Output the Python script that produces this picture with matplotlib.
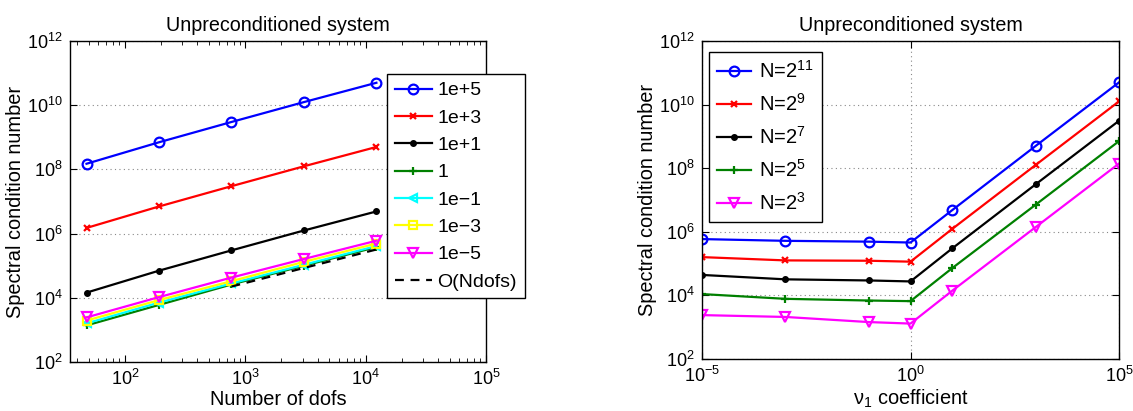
import numpy as np
import matplotlib
matplotlib.use('Agg')
import matplotlib.pyplot as plt
from matplotlib.ticker import LogLocator, NullLocator, LogFormatterSciNotation

plt.rcParams['font.family'] = ['Liberation Sans', 'DejaVu Sans']
plt.rcParams['mathtext.fontset'] = 'custom'
plt.rcParams['mathtext.rm'] = 'Liberation Sans'
plt.rcParams['mathtext.it'] = 'Liberation Sans:italic'

# Left panel: condition number vs number of dofs, one curve per coefficient
ndofs = [48, 192, 768, 3072, 12288]
kappa_1e5 = [1.5e8, 7.0e8, 3.0e9, 1.25e10, 5.0e10]
kappa_1e3 = [1.5e6, 7.0e6, 3.0e7, 1.25e8, 5.0e8]
kappa_1e1 = [1.45e4, 7.0e4, 3.0e5, 1.25e6, 4.9e6]
kappa_1 = [1.38e3, 6.0e3, 2.6e4, 1.0e5, 3.8e5]
kappa_1em1 = [1.6e3, 7.1e3, 2.8e4, 1.07e5, 4.1e5]
kappa_1em3 = [1.95e3, 8.5e3, 3.3e4, 1.32e5, 4.9e5]
kappa_1em5 = [2.45e3, 1.05e4, 4.27e4, 1.62e5, 6.0e5]
ref_ndofs = [768, 3072, 12288]
ref_kappa = [2.24e4, 8.5e4, 3.2e5]
left_labels = ['1e+5', '1e+3', '1e+1', '1', '1e\u22121', '1e\u22123', '1e\u22125', 'O(Ndofs)']

# Right panel: condition number vs nu_1, one curve per mesh size
nu1 = [1e-5, 1e-3, 1e-1, 1e0, 1e1, 1e3, 1e5]
kappa_n11 = [5.9e5, 5.2e5, 4.9e5, 4.6e5, 4.8e6, 5.0e8, 5.0e10]
kappa_n9 = [1.6e5, 1.26e5, 1.23e5, 1.15e5, 1.23e6, 1.26e8, 1.26e10]
kappa_n7 = [4.4e4, 3.2e4, 2.95e4, 2.75e4, 3.0e5, 3.1e7, 3.1e9]
kappa_n5 = [1.1e4, 7.8e3, 6.9e3, 6.6e3, 7.2e4, 7.1e6, 7.1e8]
kappa_n3 = [2.4e3, 2.1e3, 1.45e3, 1.3e3, 1.4e4, 1.4e6, 1.4e8]
right_labels = [r'N=$\mathregular{2^{11}}$', r'N=$\mathregular{2^{9}}$', r'N=$\mathregular{2^{7}}$',
                r'N=$\mathregular{2^{5}}$', r'N=$\mathregular{2^{3}}$']

lw = 1.6
ms = 6

fig = plt.figure(figsize=(11.33, 4.11), dpi=100)
ax1 = fig.add_axes([70 / 1133, 49 / 411, 416 / 1133, 321 / 411])
ax2 = fig.add_axes([702 / 1133, 52 / 411, 417 / 1133, 318 / 411])


def style_axis(ax):
    ax.set_yscale('log')
    ax.set_ylim(1e2, 1e12)
    ax.set_yticks([1e2, 1e4, 1e6, 1e8, 1e10, 1e12])
    ax.yaxis.set_minor_locator(NullLocator())
    ax.yaxis.set_major_formatter(LogFormatterSciNotation())
    ax.tick_params(which='both', direction='in', top=True, right=True, labelsize=13, pad=5)
    ax.tick_params(which='major', length=5)
    ax.tick_params(which='minor', length=3)
    for s in ax.spines.values():
        s.set_linewidth(1.0)
    ax.yaxis.grid(True, linestyle=(0, (1, 3)), color='#888888', linewidth=0.8)
    ax.set_axisbelow(True)
    ax.set_ylabel('Spectral condition number', fontsize=14.4, labelpad=2)
    ax.set_title('Unpreconditioned system', fontsize=14.2, pad=7)


# Left axis
ax1.plot(ndofs, kappa_1e5, color='#0000ff', lw=lw, marker='o', ms=ms + 1, mfc='none', mew=1.6, label=left_labels[0])
ax1.plot(ndofs, kappa_1e3, color='#ff0000', lw=lw, marker='x', ms=4, mew=1.6, label=left_labels[1])
ax1.plot(ndofs, kappa_1e1, color='black', lw=lw, marker='.', ms=ms + 2, label=left_labels[2])
ax1.plot(ndofs, kappa_1, color='#008000', lw=lw, marker='+', ms=ms, mew=1.6, label=left_labels[3])
ax1.plot(ndofs, kappa_1em1, color='#00ffff', lw=lw, marker='<', ms=ms, mfc='none', mew=1.6, label=left_labels[4])
ax1.plot(ndofs, kappa_1em3, color='#ffff00', lw=lw, marker='s', ms=ms, mfc='none', mew=1.6, label=left_labels[5])
ax1.plot(ndofs, kappa_1em5, color='#ff00ff', lw=lw, marker='v', ms=ms + 1, mfc='none', mew=1.6, label=left_labels[6])
ax1.plot(ref_ndofs, ref_kappa, color='black', lw=lw, ls=(0, (4, 3)), label=left_labels[7])

ax1.set_xscale('log')
ax1.set_xlim(35, 1e5)
ax1.set_xticks([1e2, 1e3, 1e4, 1e5])
ax1.xaxis.set_minor_locator(LogLocator(base=10, subs=np.arange(2, 10)))
ax1.xaxis.set_major_formatter(LogFormatterSciNotation())
style_axis(ax1)
ax1.set_xlabel('Number of dofs', fontsize=14.4, labelpad=1)

leg1 = ax1.legend(loc='upper left', bbox_to_anchor=(387 / 1133, 1 - 74 / 411), bbox_transform=fig.transFigure,
                  fontsize=14, frameon=True, fancybox=False, edgecolor='black', framealpha=1,
                  borderaxespad=0, handlelength=1.9, handletextpad=0.3, labelspacing=0.5, borderpad=0.4)
leg1.get_frame().set_linewidth(1.0)

# Right axis
ax2.plot(nu1, kappa_n11, color='#0000ff', lw=lw, marker='o', ms=ms + 1, mfc='none', mew=1.6, label=right_labels[0])
ax2.plot(nu1, kappa_n9, color='#ff0000', lw=lw, marker='x', ms=4, mew=1.6, label=right_labels[1])
ax2.plot(nu1, kappa_n7, color='black', lw=lw, marker='.', ms=ms + 2, label=right_labels[2])
ax2.plot(nu1, kappa_n5, color='#008000', lw=lw, marker='+', ms=ms, mew=1.6, label=right_labels[3])
ax2.plot(nu1, kappa_n3, color='#ff00ff', lw=lw, marker='v', ms=ms + 1, mfc='none', mew=1.6, label=right_labels[4])

ax2.set_xscale('log')
ax2.set_xlim(1e-5, 1e5)
ax2.set_xticks([1e-5, 1e0, 1e5])
ax2.xaxis.set_minor_locator(NullLocator())
ax2.xaxis.set_major_formatter(LogFormatterSciNotation())
style_axis(ax2)
ax2.xaxis.grid(True, linestyle=(0, (1, 3)), color='#888888', linewidth=0.8)
ax2.set_xlabel('\u03bd$_1$ coefficient', fontsize=14.4, labelpad=1)

leg2 = ax2.legend(loc='upper left', bbox_to_anchor=(709 / 1133, 1 - 52 / 411), bbox_transform=fig.transFigure,
                  fontsize=14.5, frameon=True, fancybox=False, edgecolor='black', framealpha=1,
                  borderaxespad=0, handlelength=1.7, handletextpad=0.4, labelspacing=0.55, borderpad=0.4)
leg2.get_frame().set_linewidth(1.0)

plt.savefig('out.png', dpi=100)
